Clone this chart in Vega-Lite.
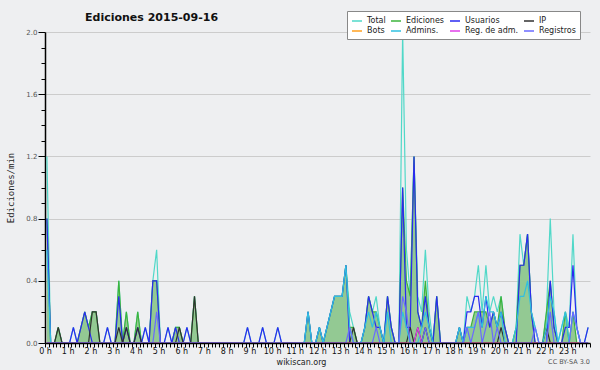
{
"$schema": "https://vega.github.io/schema/vega-lite/v6.json",
"width": 545, "height": 311,
"autosize": {"type": "none"},
"padding": {"left": 45, "top": 32, "right": 10, "bottom": 27},
"background": "#eeeff1",
"config": {"view": {"stroke": null}, "font": "DejaVu Sans"},
"title": {"text": "Ediciones  2015-09-16", "anchor": "start", "frame": "group", "dx": 40, "offset": -12, "font": "DejaVu Sans", "fontSize": 11, "fontWeight": "bold", "color": "#111"},
"data": {"values": [
{"t":5,"Total":1.2,"Ediciones":0.8,"Usuarios":0.8,"IP":0,"Bots":0,"Admins":0.6,"RegAdm":0,"Registros":0},
{"t":15,"Total":0,"Ediciones":0,"Usuarios":0,"IP":0,"Bots":0,"Admins":0,"RegAdm":0,"Registros":0},
{"t":25,"Total":0,"Ediciones":0,"Usuarios":0,"IP":0,"Bots":0,"Admins":0,"RegAdm":0,"Registros":0},
{"t":35,"Total":0.1,"Ediciones":0.1,"Usuarios":0,"IP":0.1,"Bots":0,"Admins":0,"RegAdm":0,"Registros":0},
{"t":45,"Total":0,"Ediciones":0,"Usuarios":0,"IP":0,"Bots":0,"Admins":0,"RegAdm":0,"Registros":0},
{"t":55,"Total":0,"Ediciones":0,"Usuarios":0,"IP":0,"Bots":0,"Admins":0,"RegAdm":0,"Registros":0},
{"t":65,"Total":0,"Ediciones":0,"Usuarios":0,"IP":0,"Bots":0,"Admins":0,"RegAdm":0,"Registros":0},
{"t":75,"Total":0.1,"Ediciones":0,"Usuarios":0.1,"IP":0,"Bots":0,"Admins":0,"RegAdm":0,"Registros":0},
{"t":85,"Total":0,"Ediciones":0,"Usuarios":0,"IP":0,"Bots":0,"Admins":0,"RegAdm":0,"Registros":0},
{"t":95,"Total":0.1,"Ediciones":0.1,"Usuarios":0.1,"IP":0,"Bots":0,"Admins":0,"RegAdm":0,"Registros":0},
{"t":105,"Total":0.2,"Ediciones":0.2,"Usuarios":0.2,"IP":0,"Bots":0,"Admins":0,"RegAdm":0,"Registros":0},
{"t":115,"Total":0.1,"Ediciones":0.1,"Usuarios":0.1,"IP":0,"Bots":0,"Admins":0,"RegAdm":0,"Registros":0},
{"t":125,"Total":0.2,"Ediciones":0.2,"Usuarios":0,"IP":0.2,"Bots":0,"Admins":0,"RegAdm":0,"Registros":0},
{"t":135,"Total":0.2,"Ediciones":0.2,"Usuarios":0,"IP":0.2,"Bots":0,"Admins":0,"RegAdm":0,"Registros":0},
{"t":145,"Total":0,"Ediciones":0,"Usuarios":0,"IP":0,"Bots":0,"Admins":0,"RegAdm":0,"Registros":0},
{"t":155,"Total":0,"Ediciones":0,"Usuarios":0,"IP":0,"Bots":0,"Admins":0,"RegAdm":0,"Registros":0},
{"t":165,"Total":0.1,"Ediciones":0,"Usuarios":0.1,"IP":0,"Bots":0,"Admins":0,"RegAdm":0,"Registros":0},
{"t":175,"Total":0,"Ediciones":0,"Usuarios":0,"IP":0,"Bots":0,"Admins":0,"RegAdm":0,"Registros":0},
{"t":185,"Total":0,"Ediciones":0,"Usuarios":0,"IP":0,"Bots":0,"Admins":0,"RegAdm":0,"Registros":0},
{"t":195,"Total":0.4,"Ediciones":0.4,"Usuarios":0.3,"IP":0.1,"Bots":0,"Admins":0,"RegAdm":0,"Registros":0},
{"t":205,"Total":0,"Ediciones":0,"Usuarios":0,"IP":0,"Bots":0,"Admins":0,"RegAdm":0,"Registros":0},
{"t":215,"Total":0.2,"Ediciones":0.2,"Usuarios":0.1,"IP":0.1,"Bots":0,"Admins":0,"RegAdm":0,"Registros":0},
{"t":225,"Total":0,"Ediciones":0,"Usuarios":0,"IP":0,"Bots":0,"Admins":0,"RegAdm":0,"Registros":0},
{"t":235,"Total":0,"Ediciones":0,"Usuarios":0,"IP":0,"Bots":0,"Admins":0,"RegAdm":0,"Registros":0},
{"t":245,"Total":0.2,"Ediciones":0.2,"Usuarios":0.1,"IP":0.1,"Bots":0,"Admins":0,"RegAdm":0,"Registros":0},
{"t":255,"Total":0,"Ediciones":0,"Usuarios":0,"IP":0,"Bots":0,"Admins":0,"RegAdm":0,"Registros":0},
{"t":265,"Total":0.1,"Ediciones":0,"Usuarios":0.1,"IP":0,"Bots":0,"Admins":0,"RegAdm":0,"Registros":0},
{"t":275,"Total":0,"Ediciones":0,"Usuarios":0,"IP":0,"Bots":0,"Admins":0,"RegAdm":0,"Registros":0},
{"t":285,"Total":0.4,"Ediciones":0.4,"Usuarios":0.4,"IP":0,"Bots":0,"Admins":0,"RegAdm":0,"Registros":0},
{"t":295,"Total":0.6,"Ediciones":0.4,"Usuarios":0.4,"IP":0,"Bots":0,"Admins":0,"RegAdm":0,"Registros":0.2},
{"t":305,"Total":0,"Ediciones":0,"Usuarios":0,"IP":0,"Bots":0,"Admins":0,"RegAdm":0,"Registros":0},
{"t":315,"Total":0,"Ediciones":0,"Usuarios":0,"IP":0,"Bots":0,"Admins":0,"RegAdm":0,"Registros":0},
{"t":325,"Total":0.1,"Ediciones":0,"Usuarios":0.1,"IP":0,"Bots":0,"Admins":0,"RegAdm":0,"Registros":0},
{"t":335,"Total":0,"Ediciones":0,"Usuarios":0,"IP":0,"Bots":0,"Admins":0,"RegAdm":0,"Registros":0},
{"t":345,"Total":0.1,"Ediciones":0.1,"Usuarios":0.1,"IP":0,"Bots":0,"Admins":0,"RegAdm":0,"Registros":0},
{"t":355,"Total":0.1,"Ediciones":0.1,"Usuarios":0,"IP":0.1,"Bots":0,"Admins":0,"RegAdm":0,"Registros":0},
{"t":365,"Total":0,"Ediciones":0,"Usuarios":0,"IP":0,"Bots":0,"Admins":0,"RegAdm":0,"Registros":0},
{"t":375,"Total":0.1,"Ediciones":0,"Usuarios":0.1,"IP":0,"Bots":0,"Admins":0,"RegAdm":0,"Registros":0},
{"t":385,"Total":0,"Ediciones":0,"Usuarios":0,"IP":0,"Bots":0,"Admins":0,"RegAdm":0,"Registros":0},
{"t":395,"Total":0.3,"Ediciones":0.3,"Usuarios":0,"IP":0.3,"Bots":0,"Admins":0,"RegAdm":0,"Registros":0},
{"t":405,"Total":0,"Ediciones":0,"Usuarios":0,"IP":0,"Bots":0,"Admins":0,"RegAdm":0,"Registros":0},
{"t":415,"Total":0,"Ediciones":0,"Usuarios":0,"IP":0,"Bots":0,"Admins":0,"RegAdm":0,"Registros":0},
{"t":425,"Total":0,"Ediciones":0,"Usuarios":0,"IP":0,"Bots":0,"Admins":0,"RegAdm":0,"Registros":0},
{"t":435,"Total":0,"Ediciones":0,"Usuarios":0,"IP":0,"Bots":0,"Admins":0,"RegAdm":0,"Registros":0},
{"t":445,"Total":0,"Ediciones":0,"Usuarios":0,"IP":0,"Bots":0,"Admins":0,"RegAdm":0,"Registros":0},
{"t":455,"Total":0,"Ediciones":0,"Usuarios":0,"IP":0,"Bots":0,"Admins":0,"RegAdm":0,"Registros":0},
{"t":465,"Total":0,"Ediciones":0,"Usuarios":0,"IP":0,"Bots":0,"Admins":0,"RegAdm":0,"Registros":0},
{"t":475,"Total":0,"Ediciones":0,"Usuarios":0,"IP":0,"Bots":0,"Admins":0,"RegAdm":0,"Registros":0},
{"t":485,"Total":0,"Ediciones":0,"Usuarios":0,"IP":0,"Bots":0,"Admins":0,"RegAdm":0,"Registros":0},
{"t":495,"Total":0,"Ediciones":0,"Usuarios":0,"IP":0,"Bots":0,"Admins":0,"RegAdm":0,"Registros":0},
{"t":505,"Total":0,"Ediciones":0,"Usuarios":0,"IP":0,"Bots":0,"Admins":0,"RegAdm":0,"Registros":0},
{"t":515,"Total":0,"Ediciones":0,"Usuarios":0,"IP":0,"Bots":0,"Admins":0,"RegAdm":0,"Registros":0},
{"t":525,"Total":0,"Ediciones":0,"Usuarios":0,"IP":0,"Bots":0,"Admins":0,"RegAdm":0,"Registros":0},
{"t":535,"Total":0.1,"Ediciones":0,"Usuarios":0.1,"IP":0,"Bots":0,"Admins":0,"RegAdm":0,"Registros":0},
{"t":545,"Total":0,"Ediciones":0,"Usuarios":0,"IP":0,"Bots":0,"Admins":0,"RegAdm":0,"Registros":0},
{"t":555,"Total":0,"Ediciones":0,"Usuarios":0,"IP":0,"Bots":0,"Admins":0,"RegAdm":0,"Registros":0},
{"t":565,"Total":0,"Ediciones":0,"Usuarios":0,"IP":0,"Bots":0,"Admins":0,"RegAdm":0,"Registros":0},
{"t":575,"Total":0.1,"Ediciones":0,"Usuarios":0.1,"IP":0,"Bots":0,"Admins":0,"RegAdm":0,"Registros":0},
{"t":585,"Total":0,"Ediciones":0,"Usuarios":0,"IP":0,"Bots":0,"Admins":0,"RegAdm":0,"Registros":0},
{"t":595,"Total":0,"Ediciones":0,"Usuarios":0,"IP":0,"Bots":0,"Admins":0,"RegAdm":0,"Registros":0},
{"t":605,"Total":0,"Ediciones":0,"Usuarios":0,"IP":0,"Bots":0,"Admins":0,"RegAdm":0,"Registros":0},
{"t":615,"Total":0.1,"Ediciones":0,"Usuarios":0.1,"IP":0,"Bots":0,"Admins":0,"RegAdm":0,"Registros":0},
{"t":625,"Total":0,"Ediciones":0,"Usuarios":0,"IP":0,"Bots":0,"Admins":0,"RegAdm":0,"Registros":0},
{"t":635,"Total":0,"Ediciones":0,"Usuarios":0,"IP":0,"Bots":0,"Admins":0,"RegAdm":0,"Registros":0},
{"t":645,"Total":0,"Ediciones":0,"Usuarios":0,"IP":0,"Bots":0,"Admins":0,"RegAdm":0,"Registros":0},
{"t":655,"Total":0,"Ediciones":0,"Usuarios":0,"IP":0,"Bots":0,"Admins":0,"RegAdm":0,"Registros":0},
{"t":665,"Total":0,"Ediciones":0,"Usuarios":0,"IP":0,"Bots":0,"Admins":0,"RegAdm":0,"Registros":0},
{"t":675,"Total":0,"Ediciones":0,"Usuarios":0,"IP":0,"Bots":0,"Admins":0,"RegAdm":0,"Registros":0},
{"t":685,"Total":0,"Ediciones":0,"Usuarios":0,"IP":0,"Bots":0,"Admins":0,"RegAdm":0,"Registros":0},
{"t":695,"Total":0.2,"Ediciones":0.2,"Usuarios":0.2,"IP":0,"Bots":0,"Admins":0.2,"RegAdm":0,"Registros":0},
{"t":705,"Total":0,"Ediciones":0,"Usuarios":0,"IP":0,"Bots":0,"Admins":0,"RegAdm":0,"Registros":0},
{"t":715,"Total":0,"Ediciones":0,"Usuarios":0,"IP":0,"Bots":0,"Admins":0,"RegAdm":0,"Registros":0},
{"t":725,"Total":0.1,"Ediciones":0.1,"Usuarios":0.1,"IP":0,"Bots":0,"Admins":0.1,"RegAdm":0,"Registros":0},
{"t":735,"Total":0,"Ediciones":0,"Usuarios":0,"IP":0,"Bots":0,"Admins":0,"RegAdm":0,"Registros":0},
{"t":745,"Total":0.1,"Ediciones":0.1,"Usuarios":0.1,"IP":0,"Bots":0,"Admins":0.1,"RegAdm":0,"Registros":0},
{"t":755,"Total":0.2,"Ediciones":0.2,"Usuarios":0.2,"IP":0,"Bots":0,"Admins":0.2,"RegAdm":0,"Registros":0},
{"t":765,"Total":0.3,"Ediciones":0.3,"Usuarios":0.3,"IP":0,"Bots":0,"Admins":0.3,"RegAdm":0,"Registros":0},
{"t":775,"Total":0.3,"Ediciones":0.3,"Usuarios":0.3,"IP":0,"Bots":0,"Admins":0.3,"RegAdm":0,"Registros":0},
{"t":785,"Total":0.3,"Ediciones":0.3,"Usuarios":0.3,"IP":0,"Bots":0,"Admins":0.3,"RegAdm":0,"Registros":0},
{"t":795,"Total":0.5,"Ediciones":0.5,"Usuarios":0.5,"IP":0,"Bots":0,"Admins":0.5,"RegAdm":0,"Registros":0},
{"t":805,"Total":0.2,"Ediciones":0.1,"Usuarios":0,"IP":0,"Bots":0,"Admins":0.1,"RegAdm":0,"Registros":0.1},
{"t":815,"Total":0.1,"Ediciones":0.1,"Usuarios":0,"IP":0.1,"Bots":0,"Admins":0,"RegAdm":0,"Registros":0},
{"t":825,"Total":0,"Ediciones":0,"Usuarios":0,"IP":0,"Bots":0,"Admins":0,"RegAdm":0,"Registros":0},
{"t":835,"Total":0,"Ediciones":0,"Usuarios":0,"IP":0,"Bots":0,"Admins":0,"RegAdm":0,"Registros":0},
{"t":845,"Total":0.1,"Ediciones":0.1,"Usuarios":0.1,"IP":0,"Bots":0,"Admins":0.1,"RegAdm":0,"Registros":0},
{"t":855,"Total":0.3,"Ediciones":0.3,"Usuarios":0.3,"IP":0,"Bots":0,"Admins":0.2,"RegAdm":0,"Registros":0},
{"t":865,"Total":0.2,"Ediciones":0.2,"Usuarios":0.2,"IP":0,"Bots":0,"Admins":0.1,"RegAdm":0,"Registros":0},
{"t":875,"Total":0.3,"Ediciones":0.2,"Usuarios":0.1,"IP":0,"Bots":0,"Admins":0.2,"RegAdm":0,"Registros":0.1},
{"t":885,"Total":0.1,"Ediciones":0.1,"Usuarios":0.1,"IP":0,"Bots":0,"Admins":0.1,"RegAdm":0,"Registros":0},
{"t":895,"Total":0,"Ediciones":0,"Usuarios":0,"IP":0,"Bots":0,"Admins":0,"RegAdm":0,"Registros":0},
{"t":905,"Total":0.3,"Ediciones":0.3,"Usuarios":0.3,"IP":0,"Bots":0,"Admins":0.2,"RegAdm":0,"Registros":0},
{"t":915,"Total":0.1,"Ediciones":0.1,"Usuarios":0.1,"IP":0,"Bots":0,"Admins":0,"RegAdm":0,"Registros":0},
{"t":925,"Total":0,"Ediciones":0,"Usuarios":0,"IP":0,"Bots":0,"Admins":0,"RegAdm":0,"Registros":0},
{"t":935,"Total":0,"Ediciones":0,"Usuarios":0,"IP":0,"Bots":0,"Admins":0,"RegAdm":0,"Registros":0},
{"t":945,"Total":2.0,"Ediciones":1.0,"Usuarios":1.0,"IP":0,"Bots":0,"Admins":0.2,"RegAdm":0,"Registros":0.3},
{"t":955,"Total":0.6,"Ediciones":0.4,"Usuarios":0.1,"IP":0,"Bots":0,"Admins":0.1,"RegAdm":0,"Registros":0.2},
{"t":965,"Total":0.3,"Ediciones":0.3,"Usuarios":0.1,"IP":0.1,"Bots":0,"Admins":0,"RegAdm":0,"Registros":0},
{"t":975,"Total":1.2,"Ediciones":1.2,"Usuarios":1.2,"IP":0,"Bots":0,"Admins":0,"RegAdm":0,"Registros":0},
{"t":985,"Total":0.3,"Ediciones":0.2,"Usuarios":0.2,"IP":0.1,"Bots":0,"Admins":0,"RegAdm":0.1,"Registros":0},
{"t":995,"Total":0.2,"Ediciones":0.1,"Usuarios":0.1,"IP":0,"Bots":0,"Admins":0.1,"RegAdm":0,"Registros":0},
{"t":1005,"Total":0.6,"Ediciones":0.4,"Usuarios":0.3,"IP":0.1,"Bots":0,"Admins":0.2,"RegAdm":0,"Registros":0.1},
{"t":1015,"Total":0.2,"Ediciones":0.1,"Usuarios":0.1,"IP":0,"Bots":0,"Admins":0.1,"RegAdm":0,"Registros":0},
{"t":1025,"Total":0,"Ediciones":0,"Usuarios":0,"IP":0,"Bots":0,"Admins":0,"RegAdm":0,"Registros":0},
{"t":1035,"Total":0.3,"Ediciones":0.3,"Usuarios":0.3,"IP":0,"Bots":0,"Admins":0,"RegAdm":0,"Registros":0},
{"t":1045,"Total":0,"Ediciones":0,"Usuarios":0,"IP":0,"Bots":0,"Admins":0,"RegAdm":0,"Registros":0},
{"t":1055,"Total":0,"Ediciones":0,"Usuarios":0,"IP":0,"Bots":0,"Admins":0,"RegAdm":0,"Registros":0},
{"t":1065,"Total":0,"Ediciones":0,"Usuarios":0,"IP":0,"Bots":0,"Admins":0,"RegAdm":0,"Registros":0},
{"t":1075,"Total":0,"Ediciones":0,"Usuarios":0,"IP":0,"Bots":0,"Admins":0,"RegAdm":0,"Registros":0},
{"t":1085,"Total":0,"Ediciones":0,"Usuarios":0,"IP":0,"Bots":0,"Admins":0,"RegAdm":0,"Registros":0},
{"t":1095,"Total":0.1,"Ediciones":0.1,"Usuarios":0.1,"IP":0,"Bots":0,"Admins":0.1,"RegAdm":0,"Registros":0},
{"t":1105,"Total":0,"Ediciones":0,"Usuarios":0,"IP":0,"Bots":0,"Admins":0,"RegAdm":0,"Registros":0},
{"t":1115,"Total":0.3,"Ediciones":0.1,"Usuarios":0.2,"IP":0,"Bots":0,"Admins":0.1,"RegAdm":0,"Registros":0.1},
{"t":1125,"Total":0.2,"Ediciones":0.1,"Usuarios":0.2,"IP":0,"Bots":0,"Admins":0.1,"RegAdm":0,"Registros":0},
{"t":1135,"Total":0.3,"Ediciones":0.2,"Usuarios":0.3,"IP":0,"Bots":0,"Admins":0.1,"RegAdm":0,"Registros":0.1},
{"t":1145,"Total":0.5,"Ediciones":0.2,"Usuarios":0.3,"IP":0,"Bots":0,"Admins":0.2,"RegAdm":0,"Registros":0.2},
{"t":1155,"Total":0.2,"Ediciones":0.2,"Usuarios":0.1,"IP":0,"Bots":0,"Admins":0.1,"RegAdm":0,"Registros":0},
{"t":1165,"Total":0.5,"Ediciones":0.2,"Usuarios":0.3,"IP":0,"Bots":0,"Admins":0.3,"RegAdm":0,"Registros":0.1},
{"t":1175,"Total":0.2,"Ediciones":0.1,"Usuarios":0.1,"IP":0,"Bots":0,"Admins":0.2,"RegAdm":0,"Registros":0.2},
{"t":1185,"Total":0.3,"Ediciones":0.2,"Usuarios":0.2,"IP":0,"Bots":0,"Admins":0.2,"RegAdm":0,"Registros":0},
{"t":1195,"Total":0.2,"Ediciones":0.1,"Usuarios":0.1,"IP":0,"Bots":0,"Admins":0.1,"RegAdm":0,"Registros":0.1},
{"t":1205,"Total":0.3,"Ediciones":0.3,"Usuarios":0.2,"IP":0.1,"Bots":0,"Admins":0.2,"RegAdm":0,"Registros":0},
{"t":1215,"Total":0.1,"Ediciones":0.1,"Usuarios":0.1,"IP":0,"Bots":0,"Admins":0,"RegAdm":0,"Registros":0},
{"t":1225,"Total":0,"Ediciones":0,"Usuarios":0,"IP":0,"Bots":0,"Admins":0,"RegAdm":0,"Registros":0},
{"t":1235,"Total":0,"Ediciones":0,"Usuarios":0,"IP":0,"Bots":0,"Admins":0,"RegAdm":0,"Registros":0},
{"t":1245,"Total":0.1,"Ediciones":0.1,"Usuarios":0,"IP":0,"Bots":0,"Admins":0.1,"RegAdm":0,"Registros":0},
{"t":1255,"Total":0.7,"Ediciones":0.5,"Usuarios":0.5,"IP":0,"Bots":0,"Admins":0.3,"RegAdm":0,"Registros":0},
{"t":1265,"Total":0.5,"Ediciones":0.5,"Usuarios":0.5,"IP":0,"Bots":0,"Admins":0.3,"RegAdm":0,"Registros":0},
{"t":1275,"Total":0.7,"Ediciones":0.7,"Usuarios":0.7,"IP":0,"Bots":0,"Admins":0.4,"RegAdm":0,"Registros":0},
{"t":1285,"Total":0.2,"Ediciones":0.2,"Usuarios":0.2,"IP":0,"Bots":0,"Admins":0.2,"RegAdm":0,"Registros":0},
{"t":1295,"Total":0.1,"Ediciones":0,"Usuarios":0,"IP":0,"Bots":0,"Admins":0.1,"RegAdm":0,"Registros":0.1},
{"t":1305,"Total":0,"Ediciones":0,"Usuarios":0,"IP":0,"Bots":0,"Admins":0,"RegAdm":0,"Registros":0},
{"t":1315,"Total":0,"Ediciones":0,"Usuarios":0,"IP":0,"Bots":0,"Admins":0,"RegAdm":0,"Registros":0},
{"t":1325,"Total":0.2,"Ediciones":0.2,"Usuarios":0,"IP":0.1,"Bots":0,"Admins":0.1,"RegAdm":0,"Registros":0},
{"t":1335,"Total":0.8,"Ediciones":0.4,"Usuarios":0.4,"IP":0,"Bots":0,"Admins":0.3,"RegAdm":0,"Registros":0.2},
{"t":1345,"Total":0.2,"Ediciones":0.1,"Usuarios":0.1,"IP":0,"Bots":0,"Admins":0.2,"RegAdm":0,"Registros":0},
{"t":1355,"Total":0,"Ediciones":0,"Usuarios":0,"IP":0,"Bots":0,"Admins":0,"RegAdm":0,"Registros":0},
{"t":1365,"Total":0.1,"Ediciones":0,"Usuarios":0,"IP":0,"Bots":0,"Admins":0.1,"RegAdm":0,"Registros":0},
{"t":1375,"Total":0.2,"Ediciones":0.2,"Usuarios":0.1,"IP":0,"Bots":0,"Admins":0.2,"RegAdm":0,"Registros":0},
{"t":1385,"Total":0.1,"Ediciones":0,"Usuarios":0.1,"IP":0,"Bots":0,"Admins":0,"RegAdm":0,"Registros":0},
{"t":1395,"Total":0.7,"Ediciones":0.2,"Usuarios":0.5,"IP":0,"Bots":0,"Admins":0.2,"RegAdm":0,"Registros":0.2},
{"t":1405,"Total":0.1,"Ediciones":0,"Usuarios":0.1,"IP":0,"Bots":0,"Admins":0.1,"RegAdm":0,"Registros":0.1},
{"t":1415,"Total":0,"Ediciones":0,"Usuarios":0,"IP":0,"Bots":0,"Admins":0,"RegAdm":0,"Registros":0},
{"t":1425,"Total":0,"Ediciones":0,"Usuarios":0,"IP":0,"Bots":0,"Admins":0,"RegAdm":0,"Registros":0},
{"t":1435,"Total":0.1,"Ediciones":0,"Usuarios":0.1,"IP":0,"Bots":0,"Admins":0,"RegAdm":0,"Registros":0}
]},
"transform": [{"fold": ["Total","Ediciones","Usuarios","IP","Bots","Admins","RegAdm","Registros"], "as": ["serie","valor"]}],
"encoding": {
  "x": {"field": "t", "type": "quantitative", "scale": {"domain": [0,1440], "nice": false},
    "axis": {"values": [0,10,20,30,40,50,60,70,80,90,100,110,120,130,140,150,160,170,180,190,200,210,220,230,240,250,260,270,280,290,300,310,320,330,340,350,360,370,380,390,400,410,420,430,440,450,460,470,480,490,500,510,520,530,540,550,560,570,580,590,600,610,620,630,640,650,660,670,680,690,700,710,720,730,740,750,760,770,780,790,800,810,820,830,840,850,860,870,880,890,900,910,920,930,940,950,960,970,980,990,1000,1010,1020,1030,1040,1050,1060,1070,1080,1090,1100,1110,1120,1130,1140,1150,1160,1170,1180,1190,1200,1210,1220,1230,1240,1250,1260,1270,1280,1290,1300,1310,1320,1330,1340,1350,1360,1370,1380,1390,1400,1410,1420,1430,1440],
      "labelExpr": "datum.value % 60 == 0 && datum.value < 1440 ? floor(datum.value/60) + ' h' : ''",
      "grid": false, "tickSize": 4, "tickColor": "#000", "domainColor": "#000", "domainWidth": 1.5,
      "labelFontSize": 8, "labelColor": "#111", "labelPadding": 0, "labelOverlap": false, "labelFlush": false,
      "title": "wikiscan.org", "titleFontSize": 8, "titleFontWeight": "normal", "titleColor": "#222", "titlePadding": 3, "titleX": 256, "zindex": 1}},
  "y": {"field": "valor", "type": "quantitative", "scale": {"domain": [0,2], "nice": false},
    "axis": {"values": [0,0.1,0.2,0.3,0.4,0.5,0.6,0.7,0.8,0.9,1,1.1,1.2,1.3,1.4,1.5,1.6,1.7,1.8,1.9,2],
      "labelExpr": "round(datum.value*10) % 4 == 0 ? format(datum.value, '.1f') : ''",
      "tickSize": {"condition": {"test": "round(datum.value*10) % 4 == 0", "value": 7}, "value": 4},
      "tickColor": "#000", "domainColor": "#000", "domainWidth": 1.5,
      "grid": true, "gridColor": "#cccccc", "gridOpacity": {"condition": {"test": "round(datum.value*10) % 4 == 0 && datum.value > 0", "value": 1}, "value": 0},
      "labelFontSize": 7, "labelColor": "#555", "labelPadding": 1, "labelOverlap": false, "labelFlush": false,
      "title": "Ediciones/min", "titleFont": "DejaVu Sans Mono", "titleFontSize": 9, "titleFontWeight": "normal", "titleColor": "#222", "titlePadding": 10}}
},
"layer": [
  {"transform": [{"filter": "datum.serie == 'Total'"}],
   "mark": {"type": "line", "strokeWidth": 1.2},
   "encoding": {"color": {"field": "serie", "type": "nominal",
     "scale": {"domain": ["Total","Ediciones","Usuarios","IP","Bots","Admins","RegAdm","Registros"], "range": ["#50d8c8","#3cb43c","#2a2af0","#303030","#ffa020","#30c0e0","#e040e8","#6a6aff"]},
     "legend": {"orient": "none", "legendX": 302, "legendY": -21, "columns": 4, "direction": "horizontal", "title": null, "symbolType": "stroke", "symbolSize": 100, "symbolStrokeWidth": 1.5, "labelFontSize": 8, "labelFont": "DejaVu Sans", "labelColor": "#222", "fillColor": "#ffffff", "strokeColor": "#888", "padding": 4, "columnPadding": 2, "rowPadding": 0, "labelOffset": 4, "gridAlign": "each",
       "labelExpr": "datum.label == 'Admins' ? 'Admins.' : datum.label == 'RegAdm' ? 'Reg. de adm.' : datum.label"}}}},
  {"transform": [{"filter": "datum.serie == 'Ediciones'"}],
   "mark": {"type": "area", "color": "#93c993", "opacity": 1},
   "encoding": {}},
  {"transform": [{"filter": "datum.serie != 'Total'"}],
   "mark": {"type": "line", "strokeWidth": 1.2},
   "encoding": {"color": {"field": "serie", "type": "nominal",
     "scale": {"domain": ["Total","Ediciones","Usuarios","IP","Bots","Admins","RegAdm","Registros"], "range": ["#50d8c8","#3cb43c","#2a2af0","#303030","#ffa020","#30c0e0","#e040e8","#6a6aff"]},
     "legend": {"orient": "none", "legendX": 302, "legendY": -21, "columns": 4, "direction": "horizontal", "title": null, "symbolType": "stroke", "symbolSize": 100, "symbolStrokeWidth": 1.5, "labelFontSize": 8, "labelFont": "DejaVu Sans", "labelColor": "#222", "fillColor": "#ffffff", "strokeColor": "#888", "padding": 4, "columnPadding": 2, "rowPadding": 0, "labelOffset": 4, "gridAlign": "each",
       "labelExpr": "datum.label == 'Admins' ? 'Admins.' : datum.label == 'RegAdm' ? 'Reg. de adm.' : datum.label"}}}},
  {"transform": [{"filter": "datum.t == 5 && datum.serie == 'Total'"}],
   "mark": {"type": "text", "align": "right", "baseline": "middle", "dy": 19, "fontSize": 6.5, "color": "#555"},
   "encoding": {"x": {"datum": 1440, "type": "quantitative"}, "y": {"datum": 0, "type": "quantitative"}, "text": {"value": "CC BY-SA 3.0"}}}
]
}
